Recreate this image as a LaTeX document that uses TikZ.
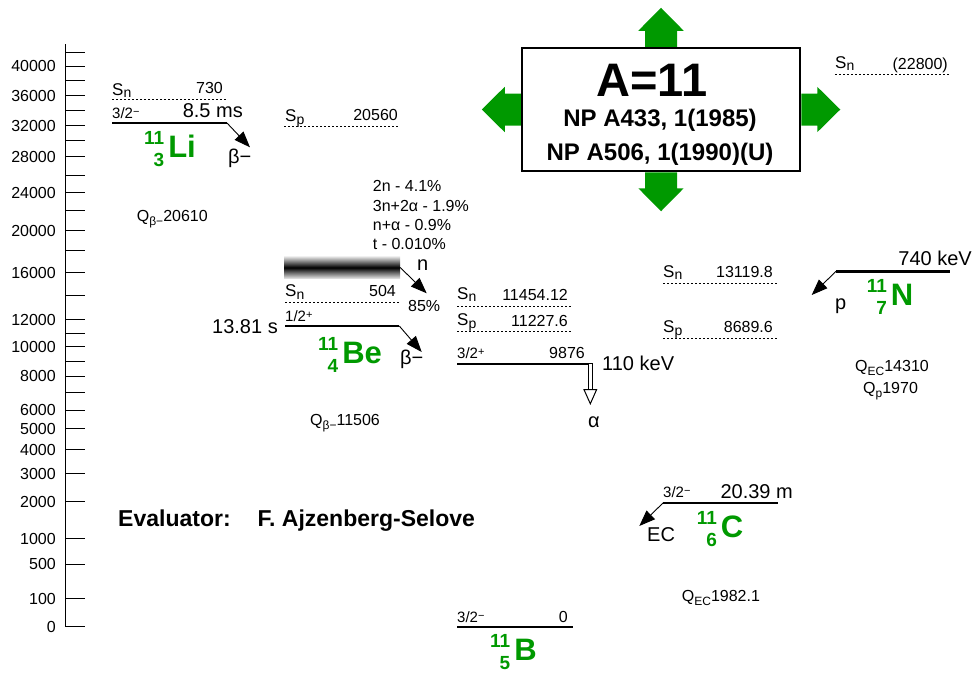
\documentclass[tikz,border=0pt]{standalone}
\usepackage{fontspec}
\setmainfont{Liberation Sans}
\usetikzlibrary{arrows.meta}
\definecolor{nucgreen}{HTML}{009900}
\definecolor{arrgreen}{HTML}{009900}
\newcommand\fsz[1]{\fontsize{#1}{#1}\selectfont}
\newcommand\lsub[1]{\raisebox{-2.5pt}{\fsz{14}#1}}
\newcommand\spinp[1]{\raisebox{3pt}{\fsz{11}#1}}
\newcommand\qsub[1]{\raisebox{-4pt}{\fsz{12}#1}}
\newcommand\nucl[3]{\raisebox{13pt}{\fsz{19}#1}\llap{\raisebox{-9pt}{\fsz{19}#2}}\hspace{4pt}{\fsz{31}#3}}

\begin{document}
\begin{tikzpicture}[x=1pt,y=-1pt,
  lbl/.style={inner sep=0, font=\fsz{16}},
  biglbl/.style={inner sep=0, font=\fsz{20}},
  spinlbl/.style={inner sep=0, font=\fsz{15}, anchor=base west},
  ticklbl/.style={inner sep=0, font=\fsz{16}, anchor=base east},
  nuc/.style={inner sep=0, anchor=base west, text=nucgreen, font=\bfseries},
  level/.style={line width=2.5pt},
  sepline/.style={line width=0.9pt, dash pattern=on 2pt off 2pt},
  decay/.style={line width=0.9pt, -{Triangle[length=16pt,width=12pt]}},
  alphadecay/.style={double, double distance=3pt, line width=1pt,
    -{Triangle[open, length=16pt, width=14pt, line width=1pt]}},
  tick/.style={line width=1pt},
  band/.style={minimum width=116pt, minimum height=22pt, inner sep=0,
    top color=black!10, bottom color=black!10, middle color=black},
  bigarrow/.pic={\fill[arrgreen] (0,-16) -- (16,-16) -- (16,-22.7) -- (39,0)
    -- (16,22.7) -- (16,16) -- (0,16) -- cycle;}
]
\useasboundingbox (0,0) rectangle (976,673);

%% energy axis
\draw[line width=1pt] (65.7,44) -- (65.7,627);
\foreach \y in {52.7,66,80,95.3,110,125.3,140,156.7,175,192.3,210,230.7,250.7,272.3,295.3,319.7,333.3,346.7,361.3,376,392.7,410,428.7,449.3,473.3,501.7,538.3,564,598.7,626.7}
  \draw[tick] (65.7,\y) -- (85,\y);
\foreach \v/\y in {40000/66,36000/95.3,32000/125.3,28000/156.7,24000/192.3,20000/230.7,16000/272.3,12000/319.7,10000/346.7,8000/376,6000/410,5000/428.7,4000/449.3,3000/473.3,2000/501.7,1000/538.3,500/564,100/598.7,0/626.7}
  \node[ticklbl] (tk\v) at (56,\y+5.7) {\v};

%% 11Li
\draw[sepline] (112,99) -- (227,99);
\node[lbl, anchor=base west] (lisn) at (112,95) {\fsz{17}S\lsub{n}};
\node[lbl, anchor=base east] (lisnv) at (223,93.5) {730};
\node[spinlbl] (lispin) at (112,118) {3/2\spinp{−}};
\node[biglbl, anchor=base east] (lihl) at (243,117) {8.5 ms};
\coordinate (li0a) at (112,123);
\coordinate (li0b) at (227,123);
\draw[level] (li0a) -- (li0b);
\coordinate (lidec) at (250,147.3);
\draw[decay] (li0b) -- (lidec);
\node[biglbl, anchor=base west] (libeta) at (228,163) {β−};
\node[nuc] (linuc) at (144,157.3) {\nucl{11}{3}{Li}};
\node[lbl, anchor=base west] (liq) at (136.7,221.5) {Q\qsub{β−}20610};

%% 11Be
\draw[sepline] (284,126) -- (399,126);
\node[lbl, anchor=base west] (besp) at (285,121.5) {\fsz{17}S\lsub{p}};
\node[lbl, anchor=base east] (bespv) at (398,120) {20560};
\foreach \t/\y [count=\i] in {2n - 4.1\%/191.7, 3n+2α - 1.9\%/211.3, n+α - 0.9\%/230.3, t - 0.010\%/249.3}
  \node[lbl, anchor=base west] (bebr\i) at (372.7,\y) {\t};
\node[band] (beres) at (342,267.5) {};
\coordinate (bendec) at (426.7,293.3);
\draw[decay] (beres.east) -- (bendec);
\node[biglbl, anchor=base west] (ben) at (417,270) {n};
\node[lbl, anchor=base west] (bepct) at (408,311.7) {85\%};
\draw[sepline] (285,302) -- (399,302);
\node[lbl, anchor=base west] (besn) at (285,296.7) {\fsz{17}S\lsub{n}};
\node[lbl, anchor=base east] (besnv) at (396,296.7) {504};
\node[spinlbl] (bespin) at (285,321.7) {1/2\spinp{+}};
\node[biglbl, anchor=base east] (behl) at (278,333.3) {13.81 s};
\coordinate (be0a) at (285,326);
\coordinate (be0b) at (399.3,326);
\draw[level] (be0a) -- (be0b);
\coordinate (bedec) at (421.7,352);
\draw[decay] (be0b) -- (bedec);
\node[biglbl, anchor=base west] (bebeta) at (400,364) {β−};
\node[nuc] (benuc) at (318,363.3) {\nucl{11}{4}{Be}};
\node[lbl, anchor=base west] (beq) at (310,425) {Q\qsub{β−}11506};

%% 11B
\draw[sepline] (457,306) -- (572,306);
\node[lbl, anchor=base west] (bsn) at (457,299) {\fsz{17}S\lsub{n}};
\node[lbl, anchor=base east] (bsnv) at (568,300) {11454.12};
\draw[sepline] (457,331) -- (572,331);
\node[lbl, anchor=base west] (bsp) at (457,325.5) {\fsz{17}S\lsub{p}};
\node[lbl, anchor=base east] (bspv) at (568,326) {11227.6};
\node[spinlbl] (b1spin) at (457,358) {3/2\spinp{+}};
\node[lbl, anchor=base east] (b1v) at (585,358) {9876};
\coordinate (b1a) at (457,364);
\coordinate (b1b) at (593,364);
\draw[level] (b1a) -- (b1b);
\node[biglbl, anchor=base west] (b1w) at (602,370) {110 keV};
\coordinate (b1al) at (590.3,364);
\coordinate (balpha) at (590.3,405);
\draw[alphadecay] (b1al) -- (balpha);
\node[biglbl, anchor=base west] (balph) at (588,427) {α};
\node[spinlbl] (b0spin) at (457,622) {3/2\spinp{−}};
\node[lbl, anchor=base east] (b0v) at (568,622) {0};
\coordinate (b0a) at (457,627);
\coordinate (b0b) at (573,627);
\draw[level] (b0a) -- (b0b);
\node[nuc] (bnuc) at (490,660) {\nucl{11}{5}{B}};

%% 11C
\node[spinlbl] (cspin) at (663,497) {3/2\spinp{−}};
\node[biglbl, anchor=base east] (chl) at (793,498) {20.39 m};
\coordinate (c0a) at (663,503);
\coordinate (c0b) at (778,503);
\draw[level] (c0a) -- (c0b);
\coordinate (cdec) at (639.3,526);
\draw[decay] (c0a) -- (cdec);
\node[biglbl, anchor=base west] (cec) at (647,541.7) {EC};
\node[nuc] (cnuc) at (696.7,537) {\nucl{11}{6}{C}};
\node[lbl, anchor=base west] (cq) at (681.7,601.5) {Q\qsub{EC}1982.1};

%% 11N
\draw[sepline] (663,283.5) -- (777,283.5);
\node[lbl, anchor=base west] (nsn) at (663,277) {\fsz{17}S\lsub{n}};
\node[lbl, anchor=base east] (nsnv) at (773,277) {13119.8};
\draw[sepline] (663,338.5) -- (777,338.5);
\node[lbl, anchor=base west] (nsp) at (663,332.5) {\fsz{17}S\lsub{p}};
\node[lbl, anchor=base east] (nspv) at (773,332.5) {8689.6};
\node[biglbl, anchor=base east] (nw) at (972,265) {740 keV};
\coordinate (n0a) at (836,271.3);
\coordinate (n0b) at (950,271.3);
\draw[level] (n0a) -- (n0b);
\coordinate (ndec) at (811.7,295);
\draw[decay] (n0a) -- (ndec);
\node[biglbl, anchor=base west] (np) at (835,309) {p};
\node[nuc] (nnuc) at (866.7,305) {\nucl{11}{7}{N}};
\node[lbl, anchor=base west] (nq1) at (855,371.5) {Q\qsub{EC}14310};
\node[lbl, anchor=base west] (nq2) at (863,393.5) {Q\qsub{p}1970};

%% 11O
\draw[sepline] (835,74.3) -- (950,74.3);
\node[lbl, anchor=base west] (osn) at (835,68.3) {\fsz{17}S\lsub{n}};
\node[lbl, anchor=base east] (osnv) at (948,69) {(22800)};

%% title box
\node[draw, line width=2.5pt, minimum width=278pt, minimum height=123pt, inner sep=0] (abox) at (661,109.5) {};
\node[inner sep=0, anchor=base, font=\bfseries\fsz{47}] (atitle) at (652,96.5) {A=11};
\node[inner sep=0, anchor=base, font=\bfseries\fsz{24}] (aref1) at (660,126) {NP A433, 1(1985)};
\node[inner sep=0, anchor=base, font=\bfseries\fsz{24}] (aref2) at (660,160) {NP A506, 1(1990)(U)};
\pic[rotate=90] (arrup) at (abox.north) {bigarrow};
\pic[rotate=-90] (arrdn) at (abox.south) {bigarrow};
\pic[rotate=180] (arrlt) at (abox.west) {bigarrow};
\pic (arrrt) at (abox.east) {bigarrow};

\node[inner sep=0, anchor=base west, font=\bfseries\fsz{23}] (evalr) at (118,526.7) {Evaluator:\hspace{27pt}F. Ajzenberg-Selove};

\end{tikzpicture}
\end{document}
